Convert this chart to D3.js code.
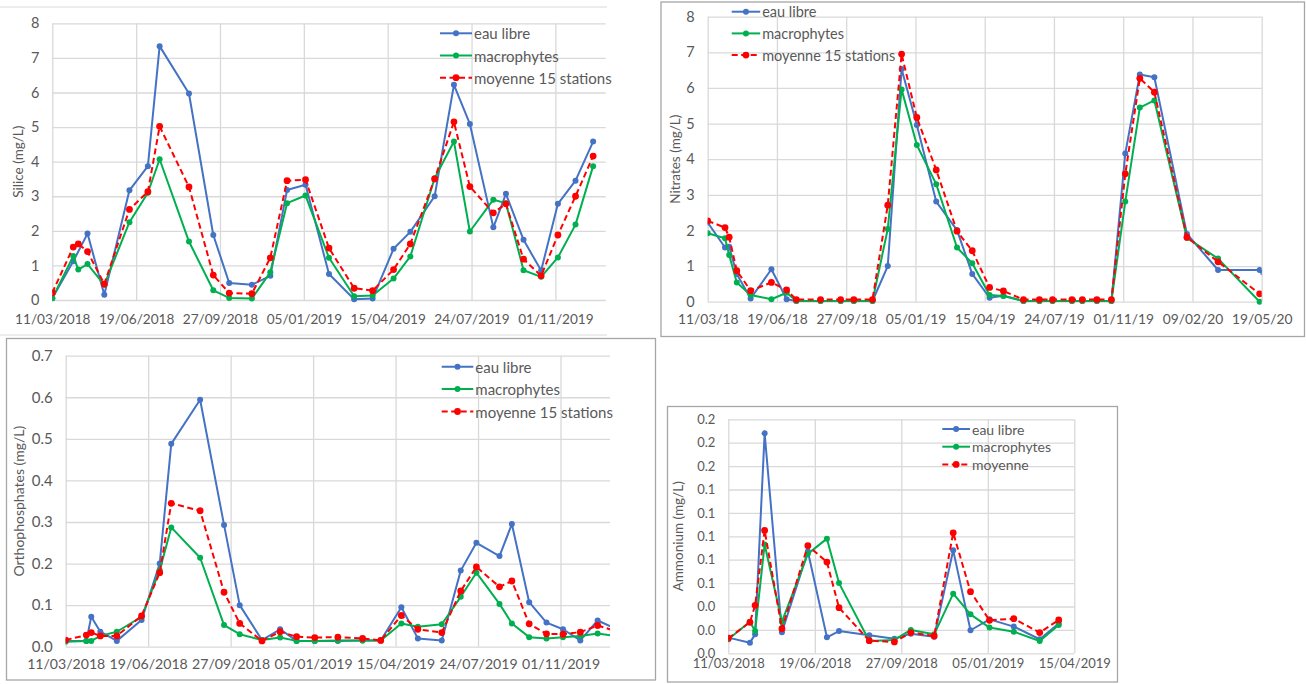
<!DOCTYPE html>
<html>
<head>
<meta charset="utf-8">
<script src="https://cdn.jsdelivr.net/npm/d3@7"></script>
<style>
  body { margin: 0; background: #ffffff; }
  svg { display: block; }
  text { font-family: Lato, "Liberation Sans", Arial, sans-serif; fill: #595959; }
</style>
</head>
<body>
<svg id="chart" width="1306" height="684"></svg>
<script>
// Sampling campaigns (one date per campaign, shared by the three series)
const campaignDates = [
  "2018-03-11", "2018-04-05", "2018-04-11", "2018-04-22", "2018-05-12", "2018-06-11",
  "2018-07-03", "2018-07-17", "2018-08-21", "2018-09-19", "2018-10-08", "2018-11-04",
  "2018-11-26", "2018-12-16", "2019-01-07", "2019-02-04", "2019-03-06", "2019-03-28",
  "2019-04-22", "2019-05-12", "2019-06-10", "2019-07-03", "2019-07-22", "2019-08-19",
  "2019-09-03", "2019-09-24", "2019-10-15", "2019-11-04", "2019-11-25", "2019-12-16"
];
const nitrateDates = campaignDates.concat(["2020-02-01", "2020-03-17", "2020-05-16", "2020-05-21"]);
const phosphateDates = campaignDates.concat(["2020-01-06"]);
const ammoniumDates = campaignDates.slice(0, 18);

const seriesNames = ["eau libre", "macrophytes", "moyenne 15 stations"];
const ammoniumSeriesNames = ["eau libre", "macrophytes", "moyenne"];

// Silice (mg/L)
const silicaEauLibre = [0.05, 1.12, null, 1.92, 0.15, 3.17, 3.87, 7.34, 5.97, 1.88, 0.49, 0.44, 0.70, 3.18, 3.33,
  0.75, 0.02, 0.04, 1.48, 1.97, 3.00, 6.22, 5.09, 2.10, 3.07, 1.74, 0.85, 2.78, 3.45, 4.58];
const silicaMacrophytes = [0.05, 1.27, 0.88, 1.04, 0.44, 2.25, 3.10, 4.07, 1.69, 0.28, 0.06, 0.04, 0.80, 2.80, 3.02,
  1.22, 0.11, 0.13, 0.62, 1.26, 3.52, 4.58, 1.98, 2.90, 2.80, 0.86, 0.67, 1.23, 2.18, 3.87];
const silicaMoyenne = [0.21, 1.53, 1.62, 1.40, 0.46, 2.62, 3.13, 5.02, 3.27, 0.72, 0.20, 0.18, 1.22, 3.45, 3.48,
  1.50, 0.34, 0.27, 0.88, 1.62, 3.50, 5.15, 3.28, 2.52, 2.78, 1.18, 0.70, 1.88, 3.00, 4.16];

// Nitrates (mg/L)
const nitrateEauLibre = [2.22, 1.52, 1.54, 0.78, 0.09, 0.91, 0.07, 0.02, 0.02, 0.02, 0.02, 0.02, 1.00, 6.53, 4.96,
  2.81, 2.01, 0.78, 0.11, 0.17, 0.02, 0.02, 0.02, 0.02, 0.02, 0.02, 0.02, 4.16, 6.38, 6.30, 1.90, 0.89, 0.89, 0.82];
const nitrateMacrophytes = [1.92, 1.78, 1.31, 0.54, 0.19, 0.07, 0.25, 0.02, 0.02, 0.02, 0.02, 0.02, 2.04, 5.96, 4.40,
  3.30, 1.52, 1.08, 0.19, 0.16, 0.02, 0.02, 0.02, 0.02, 0.02, 0.02, 0.02, 2.81, 5.45, 5.65, 1.79, 1.21, 0.00, null];
const nitrateMoyenne = [2.27, 2.08, 1.81, 0.87, 0.31, 0.54, 0.33, 0.06, 0.06, 0.06, 0.06, 0.06, 2.71, 6.95, 5.17,
  3.70, 1.98, 1.43, 0.40, 0.30, 0.06, 0.06, 0.06, 0.06, 0.06, 0.06, 0.06, 3.59, 6.27, 5.88, 1.81, 1.12, 0.22, null];

// Orthophosphates (mg/L)
const phosphateEauLibre = [0.014, 0.014, 0.072, 0.036, 0.014, 0.064, 0.200, 0.488, 0.594, 0.293, 0.100, 0.016,
  0.042, 0.014, 0.014, 0.014, 0.015, 0.015, 0.095, 0.020, 0.015, 0.183, 0.250, 0.218, 0.295, 0.107, 0.058,
  0.042, 0.015, 0.063, 0.044];
const phosphateMacrophytes = [0.012, 0.014, 0.014, 0.026, 0.036, 0.072, 0.184, 0.287, 0.214, 0.052, 0.030, 0.016,
  0.022, 0.014, 0.014, 0.015, 0.015, 0.015, 0.056, 0.048, 0.054, 0.120, 0.178, 0.103, 0.056, 0.023, 0.020,
  0.023, 0.026, 0.032, 0.026];
const phosphateMoyenne = [0.016, 0.028, 0.034, 0.026, 0.026, 0.074, 0.178, 0.345, 0.327, 0.131, 0.056, 0.014,
  0.036, 0.024, 0.022, 0.023, 0.020, 0.015, 0.075, 0.042, 0.034, 0.134, 0.192, 0.144, 0.158, 0.055, 0.031,
  0.030, 0.035, 0.051, 0.038];

// Ammonium (mg/L)
const ammoniumEauLibre = [0.0134, 0.0091, 0.0162, 0.188, 0.018, 0.087, 0.0137, 0.019, 0.0154, 0.0125, 0.0168,
  0.0142, 0.088, 0.0197, 0.029, 0.0228, 0.012, 0.0254];
const ammoniumMacrophytes = [0.012, 0.027, 0.019, 0.093, 0.027, 0.085, 0.098, 0.060, 0.0105, 0.0114, 0.020,
  0.0162, 0.051, 0.0333, 0.022, 0.0185, 0.0105, 0.0242];
const ammoniumMoyenne = [0.0128, 0.0265, 0.041, 0.105, 0.021, 0.092, 0.078, 0.039, 0.0108, 0.0097, 0.0177,
  0.0148, 0.103, 0.0527, 0.0282, 0.0296, 0.0177, 0.0285];

// Axis ticks
const dateTicks2019 = ["2018-03-11", "2018-06-19", "2018-09-27", "2019-01-05", "2019-04-15", "2019-07-24", "2019-11-01"];
const dateTicks2020 = dateTicks2019.concat(["2020-02-09", "2020-05-19"]);
const dateTicksAmmonium = dateTicks2019.slice(0, 5);
const concentrationTicks = [0, 1, 2, 3, 4, 5, 6, 7, 8];
const phosphateTicks = [0, 0.1, 0.2, 0.3, 0.4, 0.5, 0.6, 0.7];
const ammoniumTicks = [0, 0.02, 0.04, 0.06, 0.08, 0.10, 0.12, 0.14, 0.16, 0.18, 0.20];

const seriesStyles = [
  { color: "#4472C4", dash: null, r: 3 },
  { color: "#00B050", dash: null, r: 3 },
  { color: "#FF0000", dash: "6,3.5", r: 3.4 }
];

const parse = d3.utcParse("%Y-%m-%d");
const svg = d3.select("#chart");

// Panel frames
const frame = svg.append("g");
frame.append("line").attr("x1", 0).attr("x2", 607).attr("y1", 7).attr("y2", 7)
  .attr("stroke", "#d9d9d9").attr("stroke-width", 1.2);
frame.append("line").attr("x1", 0).attr("x2", 607).attr("y1", 335).attr("y2", 335)
  .attr("stroke", "#d9d9d9").attr("stroke-width", 1.2);
[[661, 2, 643.5, 334.5], [6.5, 338.5, 649, 341.5], [667.5, 406.5, 450, 275.5]].forEach(([x, y, w, h]) => {
  frame.append("rect").attr("x", x).attr("y", y).attr("width", w).attr("height", h)
    .attr("fill", "none").attr("stroke", "#a6a6a6").attr("stroke-width", 1.3);
});

function drawPanel(cfg, idx) {
  const x = d3.scaleUtc().domain([parse(cfg.xStart), parse(cfg.xEnd)]).range([cfg.left, cfg.right]);
  const y = d3.scaleLinear().domain([0, cfg.yMax]).range([cfg.bottom, cfg.top]);
  const g = svg.append("g");
  const clipId = "clip" + idx;
  g.append("clipPath").attr("id", clipId).append("rect")
    .attr("x", cfg.left).attr("y", cfg.top - 6)
    .attr("width", cfg.right - cfg.left).attr("height", cfg.bottom - cfg.top + 12);

  // horizontal gridlines + y labels
  const yAxis = d3.axisLeft(y).tickValues(cfg.yTicks).tickFormat(cfg.yFormat)
    .tickSize(-(cfg.right - cfg.left)).tickPadding(13);
  const ya = g.append("g").attr("transform", `translate(${cfg.left},0)`).call(yAxis);
  ya.select(".domain").remove();
  ya.selectAll(".tick line").attr("stroke", "#d9d9d9").attr("stroke-width", 1.3);
  ya.selectAll(".tick text").attr("font-size", cfg.yTickSize).attr("fill", "#595959")
    .style("font-family", "Lato, 'Liberation Sans', sans-serif");

  // vertical gridlines + date labels
  const tickDates = cfg.xTicks.map(parse);
  const xAxis = d3.axisBottom(x).tickValues(tickDates).tickFormat(d3.utcFormat(cfg.xFormat))
    .tickSize(-(cfg.bottom - cfg.top)).tickPadding(cfg.xPad);
  const xa = g.append("g").attr("transform", `translate(0,${cfg.bottom})`).call(xAxis);
  xa.select(".domain").remove();
  xa.selectAll(".tick line").attr("stroke", "#d9d9d9").attr("stroke-width", 1.3);
  xa.selectAll(".tick text").attr("font-size", cfg.xTickSize).attr("fill", "#595959")
    .style("font-family", "Lato, 'Liberation Sans', sans-serif");

  // axis title
  g.append("text")
    .attr("transform", `translate(${cfg.titleX},${(cfg.top + cfg.bottom) / 2}) rotate(-90)`)
    .attr("text-anchor", "middle").attr("dominant-baseline", "central")
    .attr("font-size", cfg.titleSize).text(cfg.title);

  // series
  const plot = g.append("g").attr("clip-path", `url(#${clipId})`);
  const dates = cfg.dates.map(parse);
  const line = d3.line().x(d => x(d.date)).y(d => y(d.value));
  cfg.series.forEach((values, i) => {
    const st = seriesStyles[i];
    const pts = values.map((v, j) => ({ date: dates[j], value: v })).filter(d => d.value !== null);
    plot.append("path").datum(pts).attr("d", line)
      .attr("fill", "none").attr("stroke", st.color).attr("stroke-width", 2)
      .attr("stroke-linejoin", "round")
      .attr("stroke-dasharray", st.dash);
    plot.selectAll(null).data(pts).join("circle")
      .attr("cx", d => x(d.date)).attr("cy", d => y(d.value)).attr("r", st.r)
      .attr("fill", st.color);
  });

  // legend
  const lg = g.append("g");
  cfg.names.forEach((name, i) => {
    const st = seriesStyles[i];
    const ly = cfg.legend.y + i * cfg.legend.dy;
    lg.append("line").attr("x1", cfg.legend.x).attr("x2", cfg.legend.x + cfg.legend.len)
      .attr("y1", ly).attr("y2", ly).attr("stroke", st.color).attr("stroke-width", 2)
      .attr("stroke-dasharray", st.dash);
    lg.append("circle").attr("cx", cfg.legend.x + cfg.legend.len / 2).attr("cy", ly)
      .attr("r", st.r).attr("fill", st.color);
    lg.append("text").attr("x", cfg.legend.x + cfg.legend.len + 2).attr("y", ly)
      .attr("dominant-baseline", "central").attr("font-size", cfg.legend.size).text(name);
  });
}

const panels = [
  {
    left: 52.3, right: 605.7, top: 23.3, bottom: 300,
    xStart: "2018-03-11", xEnd: "2019-12-31", xTicks: dateTicks2019, xFormat: "%d/%m/%Y", xPad: 14,
    yMax: 8, yTicks: concentrationTicks, yFormat: d3.format("d"),
    title: "Silice (mg/L)", titleX: 18, titleSize: 13.5, xTickSize: 13.6, yTickSize: 14.5,
    legend: { x: 440, y: 33.3, dy: 22.2, len: 32, size: 15 },
    dates: campaignDates, names: seriesNames,
    series: [silicaEauLibre, silicaMacrophytes, silicaMoyenne]
  },
  {
    left: 707.7, right: 1261.7, top: 16.7, bottom: 301.7,
    xStart: "2018-03-11", xEnd: "2020-05-19", xTicks: dateTicks2020, xFormat: "%d/%m/%y", xPad: 12.5,
    yMax: 8, yTicks: concentrationTicks, yFormat: d3.format("d"),
    title: "Nitrates (mg/L)", titleX: 675, titleSize: 13.5, xTickSize: 13.8, yTickSize: 14.5,
    legend: { x: 731.7, y: 11.7, dy: 21.7, len: 28.5, size: 14.5 },
    dates: nitrateDates, names: seriesNames,
    series: [nitrateEauLibre, nitrateMacrophytes, nitrateMoyenne]
  },
  {
    left: 65.7, right: 610, top: 355.7, bottom: 646.7,
    xStart: "2018-03-11", xEnd: "2019-12-31", xTicks: dateTicks2019, xFormat: "%d/%m/%Y", xPad: 12.5,
    yMax: 0.7, yTicks: phosphateTicks, yFormat: d3.format(".1f"),
    title: "Orthophosphates (mg/L)", titleX: 18, titleSize: 14, xTickSize: 14.1, yTickSize: 15,
    legend: { x: 441.7, y: 366.7, dy: 22.4, len: 31.6, size: 15 },
    dates: phosphateDates, names: seriesNames,
    series: [phosphateEauLibre, phosphateMacrophytes, phosphateMoyenne]
  },
  {
    left: 728.3, right: 1074.3, top: 419.3, bottom: 653.3,
    xStart: "2018-03-11", xEnd: "2019-04-15", xTicks: dateTicksAmmonium, xFormat: "%d/%m/%Y", xPad: 5.5,
    yMax: 0.2, yTicks: ammoniumTicks, yFormat: d3.format(".1f"),
    title: "Ammonium (mg/L)", titleX: 678, titleSize: 13.5, xTickSize: 13, yTickSize: 13,
    legend: { x: 942.3, y: 429, dy: 17.7, len: 27.7, size: 14 },
    dates: ammoniumDates, names: ammoniumSeriesNames,
    series: [ammoniumEauLibre, ammoniumMacrophytes, ammoniumMoyenne]
  }
];

panels.forEach(drawPanel);
</script>
</body>
</html>
